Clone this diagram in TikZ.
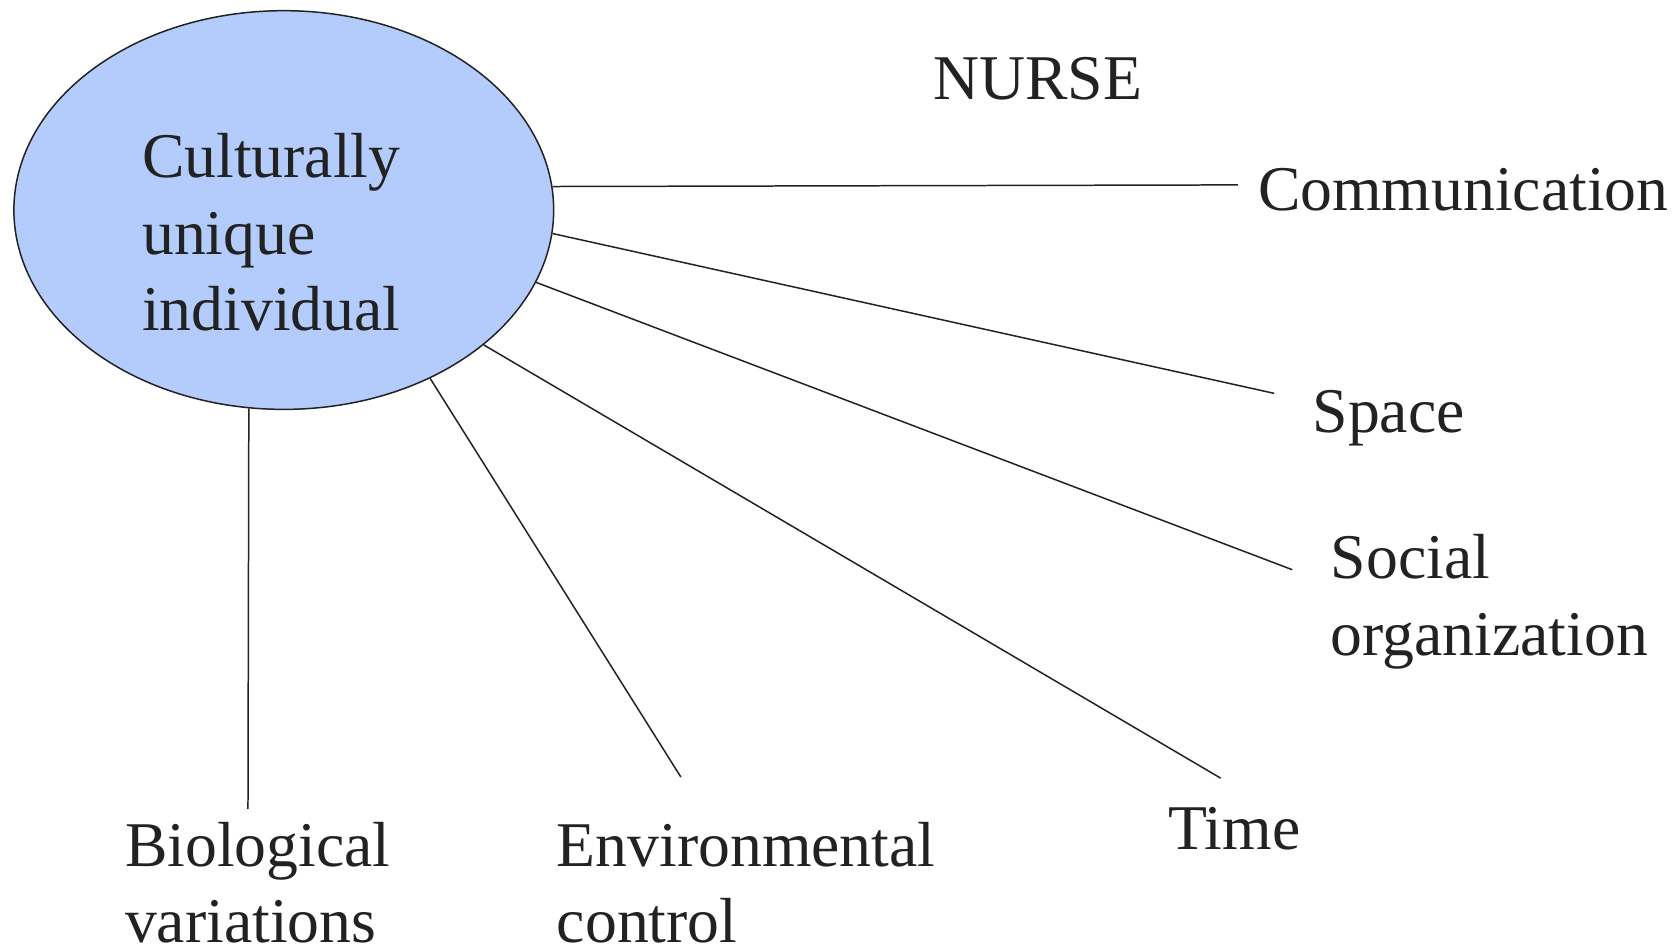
\documentclass[tikz,border=0pt]{standalone}
\usepackage{fontspec}
\setmainfont{Liberation Serif}
\usetikzlibrary{shapes.geometric}
\definecolor{ellfill}{HTML}{B4CCFB}
\definecolor{ink}{HTML}{222222}
\begin{document}
\begin{tikzpicture}[x=0.5pt,y=-0.5pt,
  lbl/.style={inner sep=0pt,outer sep=0pt,text=ink,font=\fontsize{29.8}{35.75}\selectfont,align=left},
  spoke/.style={draw=ink,line width=0.7pt}]
\useasboundingbox (0,0) rectangle (1568,887);
\node[ellipse,draw=ink,line width=0.7pt,fill=ellfill,minimum width=252.5pt,minimum height=186.5pt,inner sep=0pt] (c) at (265.5,196.5) {};
\node[lbl,anchor=north west] (ct) at (133,125) {Culturally\\unique\\individual};
\node[lbl,anchor=base west] (nurse) at (873,93) {NURSE};
\node[lbl,anchor=base west] (comm) at (1177,197) {Communication};
\node[lbl,anchor=base west] (space) at (1228,405) {Space};
\node[lbl,anchor=north west] (social) at (1245,500) {Social\\organization};
\node[lbl,anchor=base west] (time) at (1093,795) {Time};
\node[lbl,anchor=north west] (env) at (521,769) {Environmental\\control};
\node[lbl,anchor=north west] (bio) at (117,769) {Biological\\variations};
\coordinate (ecomm) at (1158,173);
\coordinate (espace) at (1192,368);
\coordinate (esocial) at (1209,533);
\coordinate (etime) at (1142,728);
\coordinate (eenv) at (637,727);
\coordinate (ebio) at (232,757);
\draw[spoke] (c.5.2) -- (ecomm);
\draw[spoke] (c.-5.2) -- (espace);
\draw[spoke] (c.-16.3) -- (esocial);
\draw[spoke] (c.-34.2) -- (etime);
\draw[spoke] (c.-49.1) -- (eenv);
\draw[spoke] (c.-100) -- (ebio);
\end{tikzpicture}
\end{document}
